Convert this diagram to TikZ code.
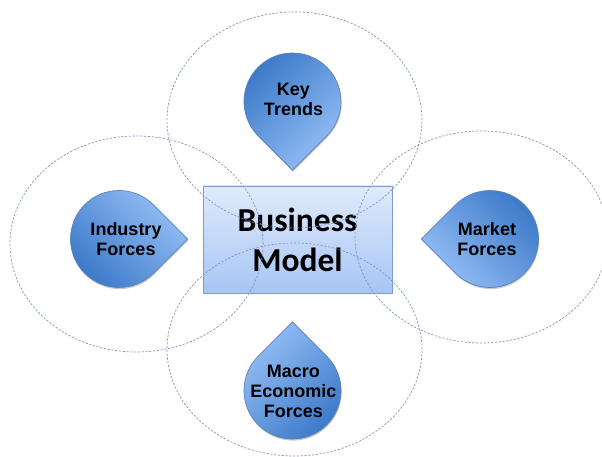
\documentclass[tikz,border=0pt]{standalone}
\usepackage{fontspec}
\usetikzlibrary{shapes.geometric,calc}
\newfontfamily\dropfont{Liberation Sans}
\newfontfamily\boxfont{Carlito}
\definecolor{dropdark}{RGB}{58,120,200}
\definecolor{droplight}{RGB}{150,192,246}
\definecolor{dropborder}{RGB}{92,130,186}
\definecolor{boxtop}{RGB}{224,234,252}
\definecolor{boxbot}{RGB}{166,197,245}
\definecolor{boxborder}{RGB}{125,155,200}
\definecolor{dashc}{RGB}{128,150,188}
\tikzset{
  zone/.style={draw=dashc, line width=0.7pt, dash pattern=on 2.2pt off 1.6pt, ellipse, inner sep=0pt},
  bmbox/.style={draw=boxborder, line width=0.9pt, top color=boxtop, bottom color=boxbot,
    minimum width=189pt, minimum height=107pt, inner sep=0pt, align=center,
    font=\boxfont\bfseries\fontsize{33.5}{40}\selectfont},
  droppath/.style={draw=dropborder, line width=0.7pt},
  dropshadow/.style={fill=black, opacity=0.22},
  droptext/.style={align=center, inner sep=0pt, font=\dropfont\bfseries\fontsize{18}{20}\selectfont},
  darktl/.style={top color=dropdark, bottom color=droplight, shading angle=45},
  lighttr/.style={top color=droplight, bottom color=dropdark, shading angle=-45},
  darktr/.style={top color=dropdark, bottom color=droplight, shading angle=-45},
  lighttl/.style={top color=droplight, bottom color=dropdark, shading angle=45}
}
% #1 name, #2 centre, #3 tip angle, #4 shading style, #5 text position, #6 text
\newcommand\teardrop[6]{%
  \coordinate (#1) at #2;
  \fill[dropshadow] ($(#1)+(0.6pt,-1.6pt)+(#3+45:48.5pt)$)
     arc[start angle=#3+45, end angle=#3+315, radius=48.5pt]
     -- ($(#1)+(0.6pt,-1.6pt)+(#3:68.6pt)$) -- cycle;
  \path[droppath, #4] ($(#1)+(#3+45:48.5pt)$)
     arc[start angle=#3+45, end angle=#3+315, radius=48.5pt]
     -- ($(#1)+(#3:68.6pt)$) -- cycle;
  \node[droptext] (#1-text) at #5 {#6};
}
\begin{document}
\begin{tikzpicture}[x=1pt,y=1pt]
\useasboundingbox (0,0) rectangle (602,457);
\fill[white] (0,0) rectangle (602,457);
% central box
\node[bmbox] (bm) at (297.5,217.5) {Business\\Model};
% dashed zones
\node[zone, minimum width=255pt, minimum height=216pt] (ztop) at (294.5,337) {};
\node[zone, minimum width=253pt, minimum height=216pt] (zleft) at (136.5,213) {};
\node[zone, minimum width=253pt, minimum height=212pt] (zright) at (481.5,220) {};
\node[zone, minimum width=255pt, minimum height=213pt] (zbottom) at (294.5,107.5) {};
% teardrops
\teardrop{kt}{(292.5,355.5)}{270}{darktl}{(293.5,358)}{Key\\Trends}
\teardrop{inf}{(119,218)}{0}{lighttr}{(126,218)}{Industry\\Forces}
\teardrop{mf}{(490,218)}{180}{darktr}{(487,217.5)}{Market\\Forces}
\teardrop{me}{(292.5,66.5)}{90}{lighttl}{(293.3,65.5)}{Macro\\Economic\\Forces}
\end{tikzpicture}
\end{document}
